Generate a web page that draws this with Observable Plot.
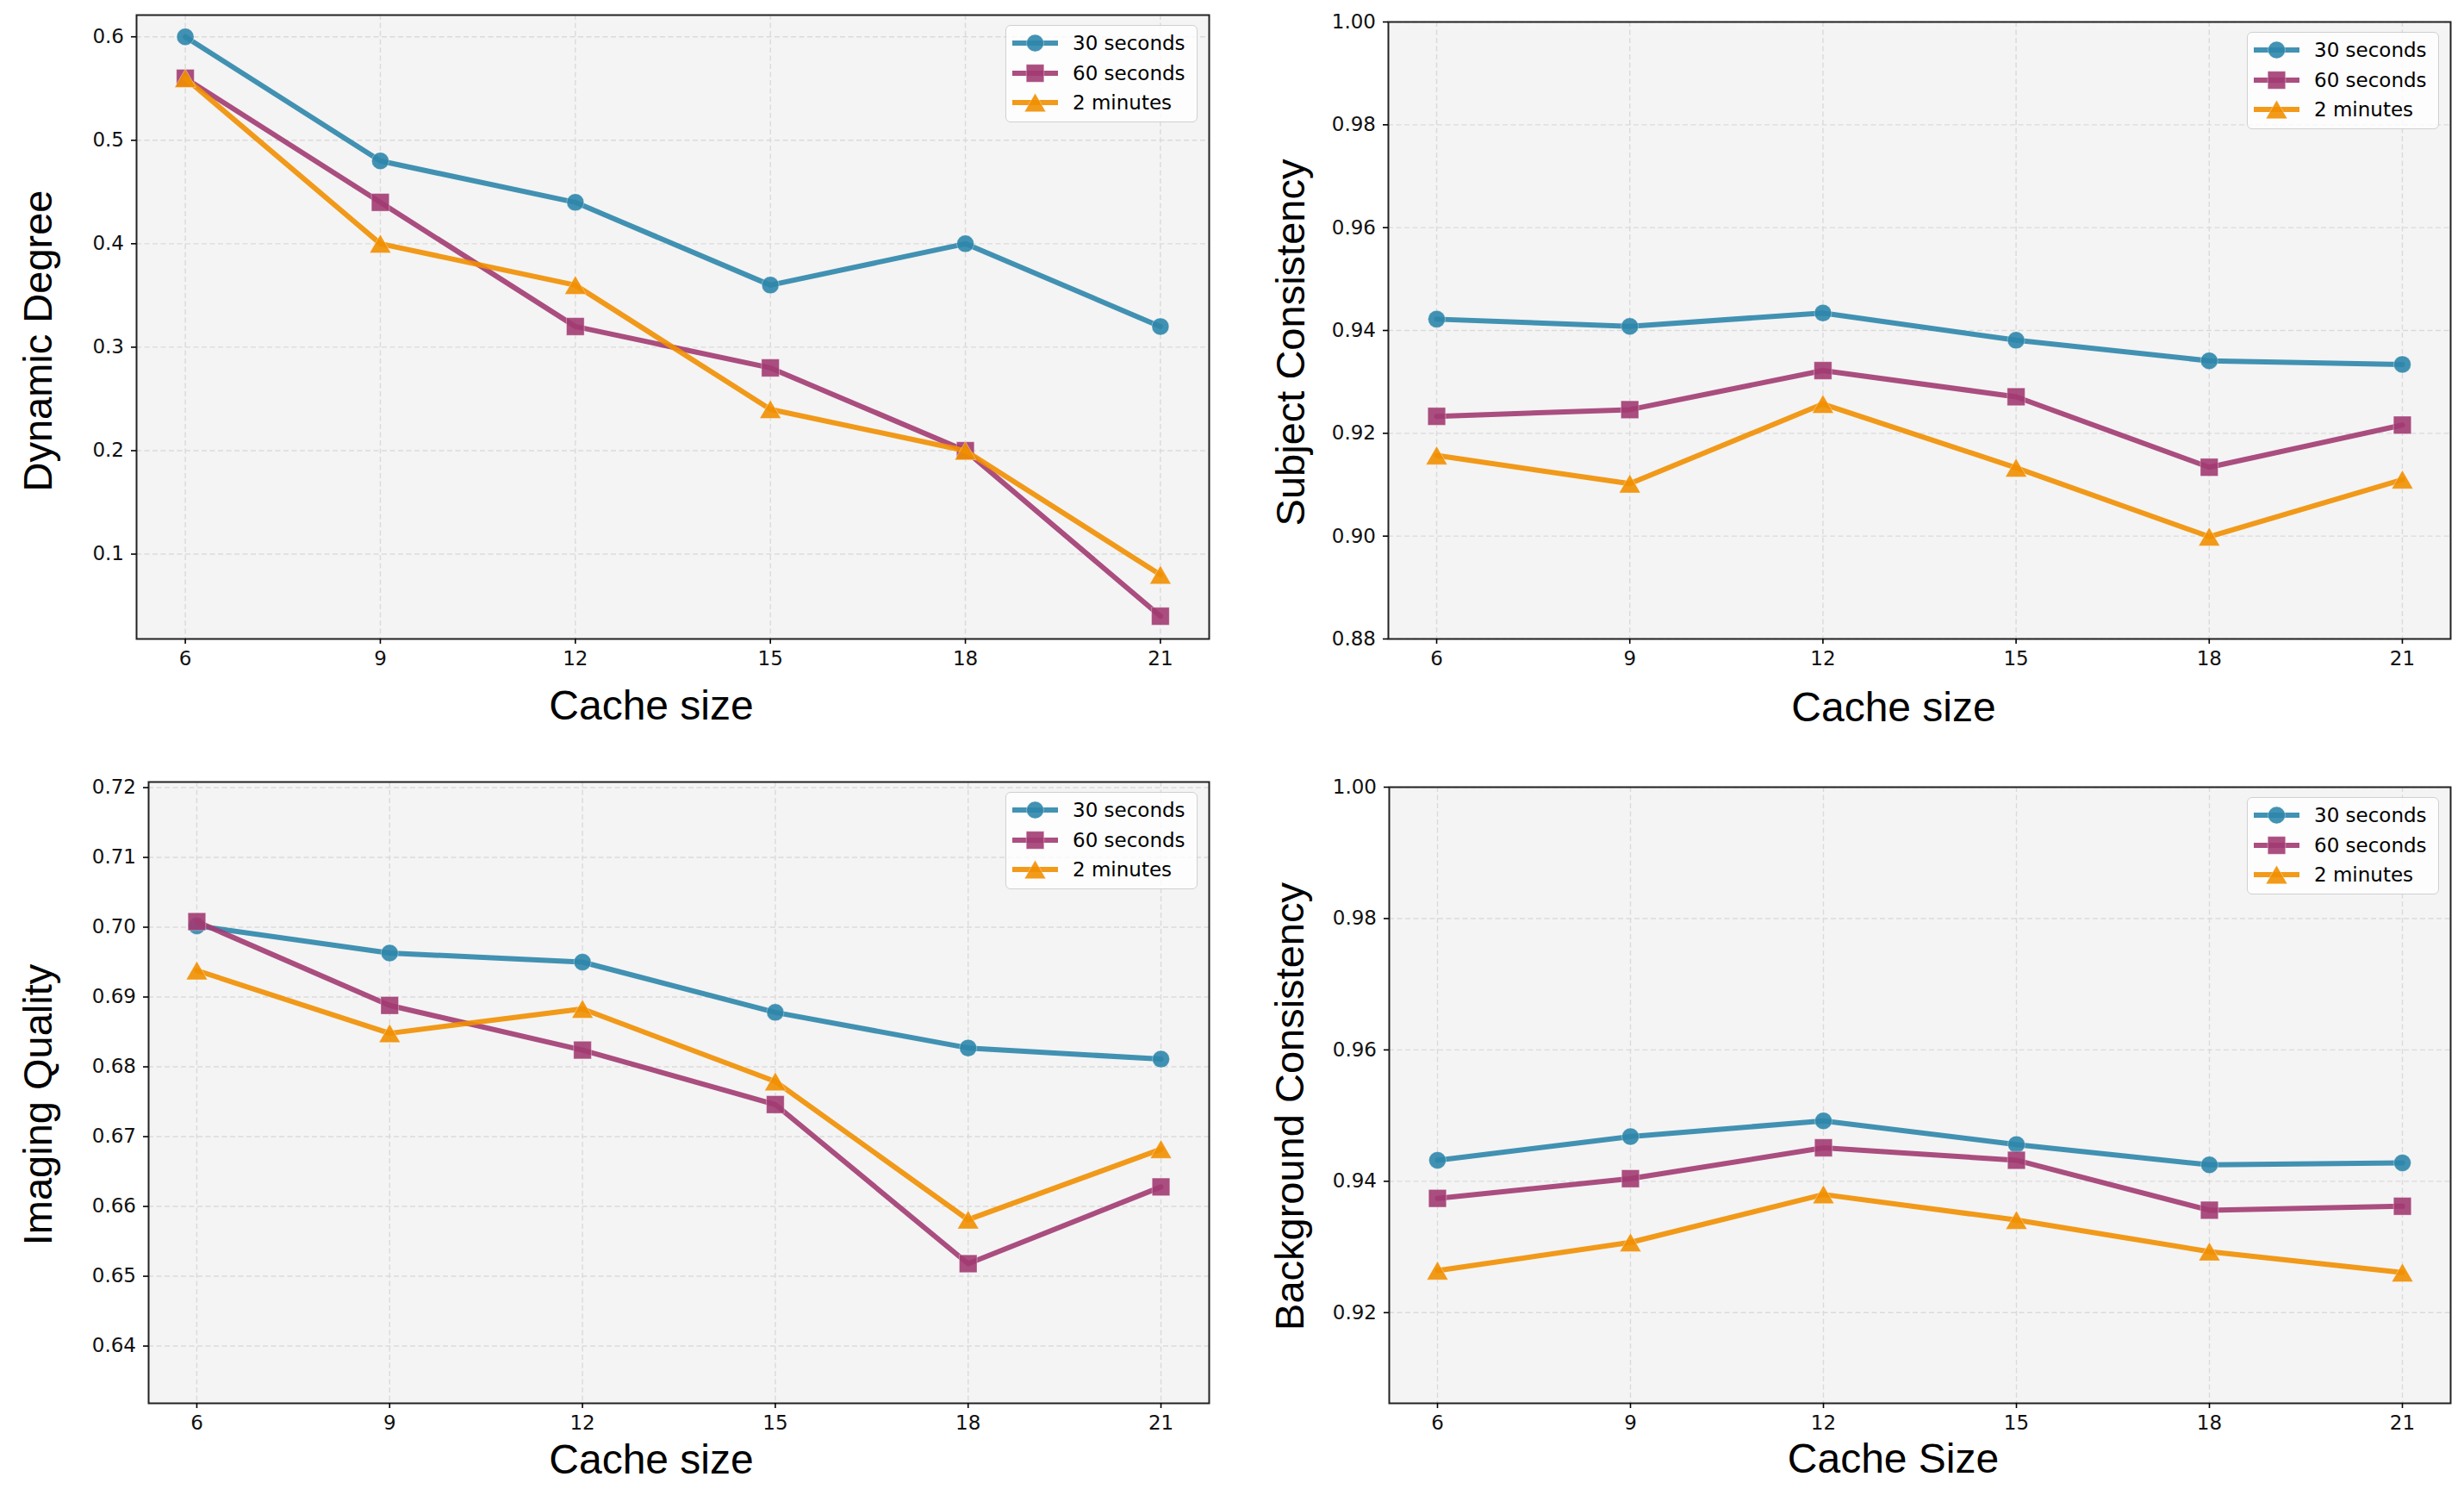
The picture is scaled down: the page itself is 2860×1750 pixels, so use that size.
<!DOCTYPE html>
<html><head><meta charset="utf-8">
<script src="https://cdn.jsdelivr.net/npm/d3@7"></script>
<script src="https://cdn.jsdelivr.net/npm/@observablehq/plot@0.6"></script>
<style>
body{margin:0;background:#fff;}
#root{position:relative;width:2860px;height:1750px;overflow:hidden;background:#fff;}
.panel{position:absolute;width:1430px;height:875px;}
.legend{position:absolute;box-sizing:border-box;width:223px;height:113px;border:1.5px solid #d0d0d0;border-radius:6px;background:rgba(255,255,255,0.8);font-family:"DejaVu Sans";font-size:23px;color:#000;}
.legend .row{position:absolute;left:0;height:30px;width:100%;}
.legend .row svg{position:absolute;left:7px;top:0;}
.legend .row span{position:absolute;left:77px;top:0;line-height:30px;white-space:nowrap;}
</style></head><body><div id="root"></div>
<script>
// ---- data ----
const cacheSizes = [6, 9, 12, 15, 18, 21];
const seriesNames = ["30 seconds", "60 seconds", "2 minutes"];

const dynamic30 = [0.60, 0.48, 0.44, 0.36, 0.40, 0.32];
const dynamic60 = [0.56, 0.44, 0.32, 0.28, 0.20, 0.04];
const dynamic2m = [0.56, 0.40, 0.36, 0.24, 0.20, 0.08];

const subject30 = [0.9422, 0.9408, 0.9434, 0.9381, 0.9341, 0.9334];
const subject60 = [0.9233, 0.9246, 0.9322, 0.9271, 0.9134, 0.9216];
const subject2m = [0.9157, 0.9102, 0.9257, 0.9133, 0.8999, 0.9110];

const imaging30 = [0.7002, 0.6963, 0.6950, 0.6878, 0.6827, 0.6811];
const imaging60 = [0.7008, 0.6888, 0.6824, 0.6746, 0.6518, 0.6628];
const imaging2m = [0.6938, 0.6848, 0.6883, 0.6779, 0.6581, 0.6682];

const background30 = [0.9432, 0.9468, 0.9492, 0.9456, 0.9425, 0.9428];
const background60 = [0.9374, 0.9404, 0.9451, 0.9432, 0.9356, 0.9362];
const background2m = [0.9264, 0.9307, 0.9380, 0.9341, 0.9293, 0.9261];

const dynamicTicks = [0.1, 0.2, 0.3, 0.4, 0.5, 0.6];
const subjectTicks = [0.88, 0.90, 0.92, 0.94, 0.96, 0.98, 1.00];
const imagingTicks = [0.64, 0.65, 0.66, 0.67, 0.68, 0.69, 0.70, 0.71, 0.72];
const backgroundTicks = [0.92, 0.94, 0.96, 0.98, 1.00];

// ---- styles ----
const seriesColors = ["#2E86AB", "#A23B72", "#F18F01"];
const seriesSymbols = ["circle", "square", "triangle"];
const seriesR = [10, 11.6, 9.2];
const seriesDy = [0, 0, 3.5];
const lineWidth = 6;

const panels = [
  {left: 0, top: 0, ylabel: "Dynamic Degree", xlabel: "Cache size",
   values: [dynamic30, dynamic60, dynamic2m], yDomain: [0.018, 0.621], yTicks: dynamicTicks, fmt: ".1f",
   m: {top: 17, right: 27, bottom: 134, left: 158}, ylDx: -114, ylDy: 16, xlDx: -25, xlDy: 93},
  {left: 1430, top: 0, ylabel: "Subject Consistency", xlabel: "Cache size",
   values: [subject30, subject60, subject2m], yDomain: [0.88, 1.00], yTicks: subjectTicks, fmt: ".2f",
   m: {top: 25, right: 16, bottom: 134, left: 181}, ylDx: -113, ylDy: 14, xlDx: -30, xlDy: 95},
  {left: 0, top: 875, ylabel: "Imaging Quality", xlabel: "Cache size",
   values: [imaging30, imaging60, imaging2m], yDomain: [0.6318, 0.7208], yTicks: imagingTicks, fmt: ".2f",
   m: {top: 32, right: 27, bottom: 122, left: 172}, ylDx: -128, ylDy: 14, xlDx: -32, xlDy: 81},
  {left: 1430, top: 875, ylabel: "Background Consistency", xlabel: "Cache Size",
   values: [background30, background60, background2m], yDomain: [0.9062, 1.00], yTicks: backgroundTicks, fmt: ".2f",
   m: {top: 38, right: 16, bottom: 122, left: 182}, ylDx: -115, ylDy: 13, xlDx: -31, xlDy: 80}
];

const root = document.getElementById("root");

for (const p of panels) {
  const seriesMarks = [];
  p.values.forEach((vals, i) => {
    const rows = cacheSizes.map((c, j) => ({x: c, y: vals[j], s: seriesNames[i]}));
    seriesMarks.push(Plot.line(rows, {x: "x", y: "y", stroke: seriesColors[i], strokeWidth: lineWidth, strokeOpacity: 0.9}));
    seriesMarks.push(Plot.dot(rows, {x: "x", y: "y", symbol: seriesSymbols[i], r: seriesR[i], dy: seriesDy[i],
      fill: seriesColors[i], fillOpacity: 0.9, stroke: "white", strokeOpacity: 0.35, strokeWidth: 1}));
  });

  const chart = Plot.plot({
    width: 1430, height: 875,
    marginTop: p.m.top, marginRight: p.m.right, marginBottom: p.m.bottom, marginLeft: p.m.left,
    style: {background: "transparent", fontFamily: "DejaVu Sans", fontSize: "23px", overflow: "visible", maxWidth: "none"},
    x: {domain: [5.25, 21.75], axis: null},
    y: {domain: p.yDomain, axis: null},
    marks: [
      Plot.frame({fill: "#f4f4f4"}),
      Plot.gridX({ticks: cacheSizes, stroke: "#dadada", strokeOpacity: 1, strokeWidth: 1.4, strokeDasharray: "6,3.5"}),
      Plot.gridY({ticks: p.yTicks, stroke: "#dadada", strokeOpacity: 1, strokeWidth: 1.4, strokeDasharray: "6,3.5"}),
      ...seriesMarks,
      Plot.frame({stroke: "#222", strokeWidth: 2}),
      Plot.axisX({ticks: cacheSizes, tickFormat: d => String(d), tickSize: 6, tickPadding: 8, label: null,
        fontSize: 23, strokeWidth: 1.6, fill: "#111"}),
      Plot.axisY({ticks: p.yTicks, tickFormat: p.fmt, tickSize: 6, tickPadding: 8.5, label: null,
        fontSize: 23, strokeWidth: 1.6, fill: "#111"}),
      Plot.text([p.ylabel], {text: d => d, frameAnchor: "left", textAnchor: "middle", lineAnchor: "middle",
        rotate: -90, dx: p.ylDx, dy: p.ylDy, fontSize: 47, fontFamily: "Liberation Sans", fill: "black"}),
      Plot.text([p.xlabel], {text: d => d, frameAnchor: "bottom", textAnchor: "middle", lineAnchor: "bottom",
        dx: p.xlDx, dy: p.xlDy, fontSize: 48, fontFamily: "Liberation Sans", fill: "black"})
    ]
  });

  const panel = document.createElement("div");
  panel.className = "panel";
  panel.style.left = p.left + "px";
  panel.style.top = p.top + "px";
  panel.appendChild(chart);

  // legend (inside plot area, upper right)
  const leg = document.createElement("div");
  leg.className = "legend";
  leg.style.right = (p.m.right + 13) + "px";
  leg.style.top = (p.m.top + 12) + "px";
  seriesNames.forEach((name, i) => {
    const row = document.createElement("div");
    row.className = "row";
    row.style.top = (5 + 34.5 * i) + "px";
    const svg = d3.create("svg").attr("width", 60).attr("height", 30);
    svg.append("line").attr("x1", 0).attr("x2", 53).attr("y1", 15).attr("y2", 15)
      .attr("stroke", seriesColors[i]).attr("stroke-width", lineWidth).attr("stroke-opacity", 0.9);
    const symType = i === 0 ? d3.symbolCircle : i === 1 ? d3.symbolSquare : d3.symbolTriangle;
    svg.append("path").attr("d", d3.symbol(symType, Math.PI * seriesR[i] * seriesR[i])())
      .attr("transform", `translate(26.5,${15 + seriesDy[i]})`)
      .attr("fill", seriesColors[i]).attr("fill-opacity", 0.9)
      .attr("stroke", "white").attr("stroke-opacity", 0.35);
    row.appendChild(svg.node());
    const sp = document.createElement("span");
    sp.textContent = name;
    row.appendChild(sp);
    leg.appendChild(row);
  });
  panel.appendChild(leg);
  root.appendChild(panel);
}
</script>
</body></html>
